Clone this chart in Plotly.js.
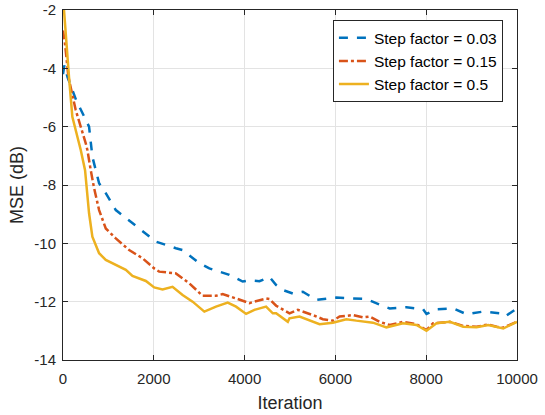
<!DOCTYPE html>
<html><head><meta charset="utf-8">
<script src="https://cdn.plot.ly/plotly-3.0.1.min.js"></script>
<style>html,body{margin:0;padding:0;background:#fff;}#chart{width:545px;height:415px;}</style>
</head><body><div id="chart"></div>
<script>
var seriesNames = ["Step factor = 0.03", "Step factor = 0.15", "Step factor = 0.5"];

var iterBlue = [0, 30, 100, 287, 574, 647, 795, 942, 1163, 1530, 1898, 2046, 2487, 2634, 3002, 3223, 3664, 3958, 4106, 4327, 4547, 4695, 4842, 5062, 5283, 5578, 6019, 6681, 7049, 7196, 7564, 7932, 8006, 8227, 8594, 8889, 9256, 9624, 9735, 10000];
var mseBlue = [-4.2, -3.9, -4.3, -5.08, -6.0, -7.03, -7.94, -8.28, -8.86, -9.31, -9.77, -9.94, -10.17, -10.23, -10.68, -10.86, -11.08, -11.31, -11.27, -11.3, -11.15, -11.43, -11.6, -11.72, -11.66, -11.94, -11.86, -11.91, -12.15, -12.23, -12.19, -12.26, -12.42, -12.26, -12.23, -12.43, -12.34, -12.4, -12.51, -12.23];

var iterOrange = [0, 40, 120, 280, 501, 537, 611, 684, 795, 942, 1163, 1457, 1751, 2009, 2119, 2487, 2781, 3075, 3370, 3517, 3812, 4106, 4216, 4474, 4547, 4695, 4989, 5173, 5504, 5724, 5945, 6093, 6387, 6607, 6754, 6975, 7196, 7490, 7785, 8006, 8153, 8521, 8815, 9110, 9367, 9551, 9698, 10000];
var mseOrange = [-2.7, -3.1, -4.3, -5.43, -6.57, -6.8, -7.49, -8.1, -8.86, -9.49, -9.83, -10.23, -10.51, -10.86, -10.97, -11.03, -11.37, -11.8, -11.8, -11.74, -11.89, -12.05, -12.0, -11.89, -11.91, -12.14, -12.4, -12.28, -12.46, -12.6, -12.65, -12.51, -12.46, -12.54, -12.51, -12.69, -12.8, -12.69, -12.77, -12.97, -12.74, -12.69, -12.83, -12.86, -12.78, -12.86, -12.89, -12.69];

var iterYellow = [0, 22, 132, 206, 353, 391, 486, 574, 647, 795, 942, 1163, 1384, 1530, 1825, 2009, 2193, 2413, 2634, 2855, 3113, 3370, 3628, 3812, 4033, 4216, 4474, 4621, 4695, 4952, 4989, 5210, 5651, 5945, 6240, 6461, 6828, 7123, 7490, 7785, 8006, 8227, 8521, 8815, 9110, 9367, 9698, 10000];
var mseYellow = [-2.0, -2.0, -4.29, -5.66, -6.57, -6.8, -7.49, -8.97, -9.77, -10.34, -10.57, -10.74, -10.91, -11.12, -11.29, -11.51, -11.58, -11.49, -11.77, -12.0, -12.34, -12.17, -12.03, -12.17, -12.42, -12.28, -12.17, -12.4, -12.4, -12.69, -12.57, -12.51, -12.77, -12.72, -12.6, -12.65, -12.72, -12.88, -12.74, -12.8, -13.0, -12.74, -12.69, -12.86, -12.88, -12.8, -12.92, -12.69];

var xTicks = [0, 2000, 4000, 6000, 8000, 10000];
var yTicks = [-2, -4, -6, -8, -10, -12, -14];
var yTickText = ["-2", "-4", "-6", "-8", "-10", "-12", "-14"];

var FONT = "Liberation Sans, Arial, Helvetica, sans-serif";

var traces = [
  {x: iterBlue, y: mseBlue, name: seriesNames[0], mode: "lines", line: {color: "#0072BD", width: 2.5, dash: "dash"}},
  {x: iterOrange, y: mseOrange, name: seriesNames[1], mode: "lines", line: {color: "#D95319", width: 2.5, dash: "dashdot"}},
  {x: iterYellow, y: mseYellow, name: seriesNames[2], mode: "lines", line: {color: "#EDB120", width: 2.5}}
];

var axisCommon = {
  showline: true, mirror: "ticks", linecolor: "#262626", linewidth: 1,
  ticks: "inside", ticklen: 5, tickcolor: "#262626",
  showgrid: true, gridcolor: "#e3e3e3", gridwidth: 1, zeroline: false,
  tickfont: {family: FONT, size: 15, color: "#262626"}
};

var layout = {
  width: 545, height: 415,
  margin: {l: 63, r: 28, t: 10, b: 55},
  paper_bgcolor: "#ffffff", plot_bgcolor: "#ffffff",
  showlegend: true,
  xaxis: Object.assign({}, axisCommon, {
    range: [0, 10000], tickvals: xTicks, ticktext: xTicks.map(String),
    ticklabelstandoff: 5,
    title: {text: "Iteration", font: {family: FONT, size: 18, color: "#262626"}, standoff: 10}
  }),
  yaxis: Object.assign({}, axisCommon, {
    range: [-14, -2], tickvals: yTicks, ticktext: yTickText,
    ticklabelstandoff: 3,
    title: {text: "MSE (dB)", font: {family: FONT, size: 18, color: "#262626"}, standoff: 6}
  }),
  legend: {
    x: 0.969, y: 0.971, xanchor: "right", yanchor: "top",
    bgcolor: "#ffffff", bordercolor: "#262626", borderwidth: 1,
    font: {family: FONT, size: 15.5, color: "#000000"},
    tracegroupgap: 0, itemwidth: 30
  }
};

Plotly.newPlot("chart", traces, layout, {staticPlot: true, displayModeBar: false});
</script>
</body></html>
